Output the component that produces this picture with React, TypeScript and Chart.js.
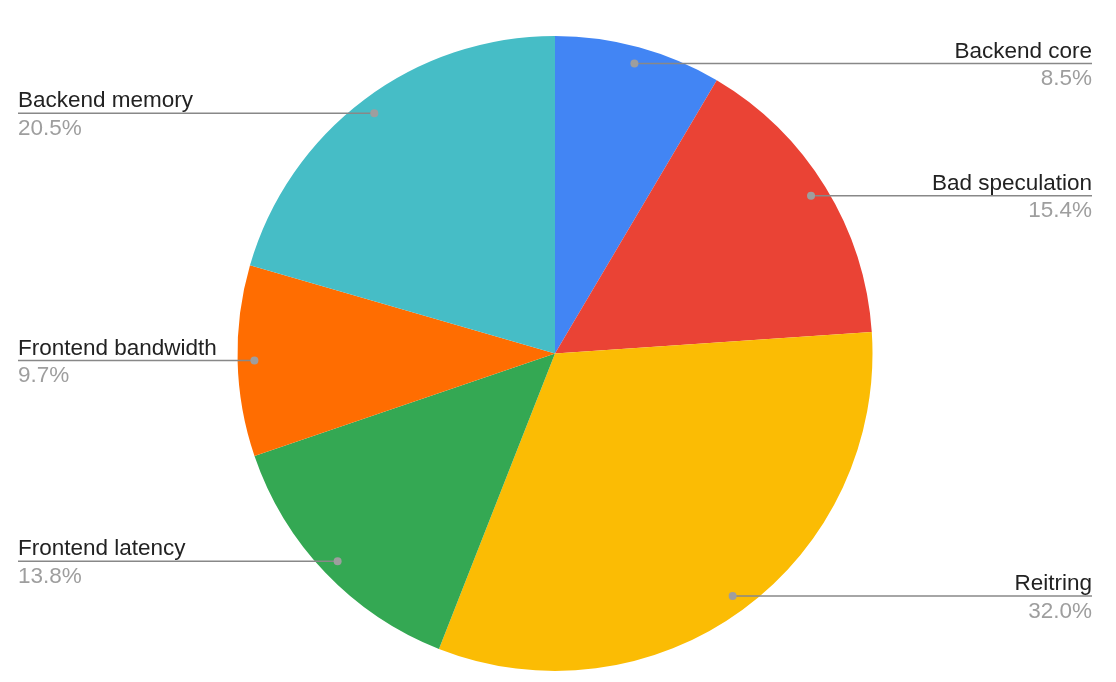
import React, { useEffect, useRef } from "react";
import { Chart, registerables } from "chart.js";

Chart.register(...registerables);

const categories = ["Backend core", "Bad speculation", "Reitring", "Frontend latency", "Frontend bandwidth", "Backend memory"];
const values = [8.5, 15.4, 32.0, 13.8, 9.7, 20.5];
const valueLabels = ["8.5%", "15.4%", "32.0%", "13.8%", "9.7%", "20.5%"];
const colors = ["#4285F4", "#EA4335", "#FBBC04", "#34A853", "#FF6D01", "#46BDC6"];

const FONT = "Liberation Sans, Arial, Helvetica, sans-serif";

const leaderPlugin = {
  id: "leaders",
  afterDatasetsDraw(chart: any) {
    const ctx = chart.ctx as CanvasRenderingContext2D;
    const meta = chart.getDatasetMeta(0);
    const W = chart.width;
    ctx.save();
    meta.data.forEach((arc: any, i: number) => {
      const mid = (arc.startAngle + arc.endAngle) / 2;
      const r = arc.outerRadius * 0.947;
      const dx = arc.x + Math.cos(mid) * r;
      const dy = arc.y + Math.sin(mid) * r;
      const right = Math.cos(mid) >= 0;
      const lx = right ? W - 24 : 18;
      ctx.strokeStyle = "#888888";
      ctx.lineWidth = 1.5;
      ctx.beginPath();
      ctx.moveTo(dx, dy);
      ctx.lineTo(lx, dy);
      ctx.stroke();
      ctx.fillStyle = "#9e9e9e";
      ctx.beginPath();
      ctx.arc(dx, dy, 4, 0, Math.PI * 2);
      ctx.fill();
      ctx.textAlign = right ? "right" : "left";
      ctx.textBaseline = "alphabetic";
      ctx.font = `22.5px ${FONT}`;
      ctx.fillStyle = "#222222";
      ctx.fillText(categories[i], lx, dy - 6);
      ctx.fillStyle = "#9e9e9e";
      ctx.fillText(valueLabels[i], lx, dy + 21.5);
    });
    ctx.restore();
  },
};

export default function App() {
  const ref = useRef<HTMLCanvasElement>(null);
  useEffect(() => {
    if (!ref.current) return;
    const chart = new Chart(ref.current, {
      type: "pie",
      data: {
        labels: categories,
        datasets: [
          {
            data: values,
            backgroundColor: colors,
            borderWidth: 0,
          },
        ],
      },
      options: {
        animation: false,
        responsive: false,
        maintainAspectRatio: false,
        layout: { padding: { top: 36, bottom: 11, left: 0, right: 6 } },
        plugins: {
          legend: { display: false },
          tooltip: { enabled: false },
        },
      },
      plugins: [leaderPlugin],
    });
    return () => chart.destroy();
  }, []);
  return (
    <div style={{ position: "fixed", left: 0, top: 0, width: 1116, height: 682, background: "#fff" }}>
      <canvas ref={ref} width={1116} height={682} style={{ width: 1116, height: 682 }} />
    </div>
  );
}
